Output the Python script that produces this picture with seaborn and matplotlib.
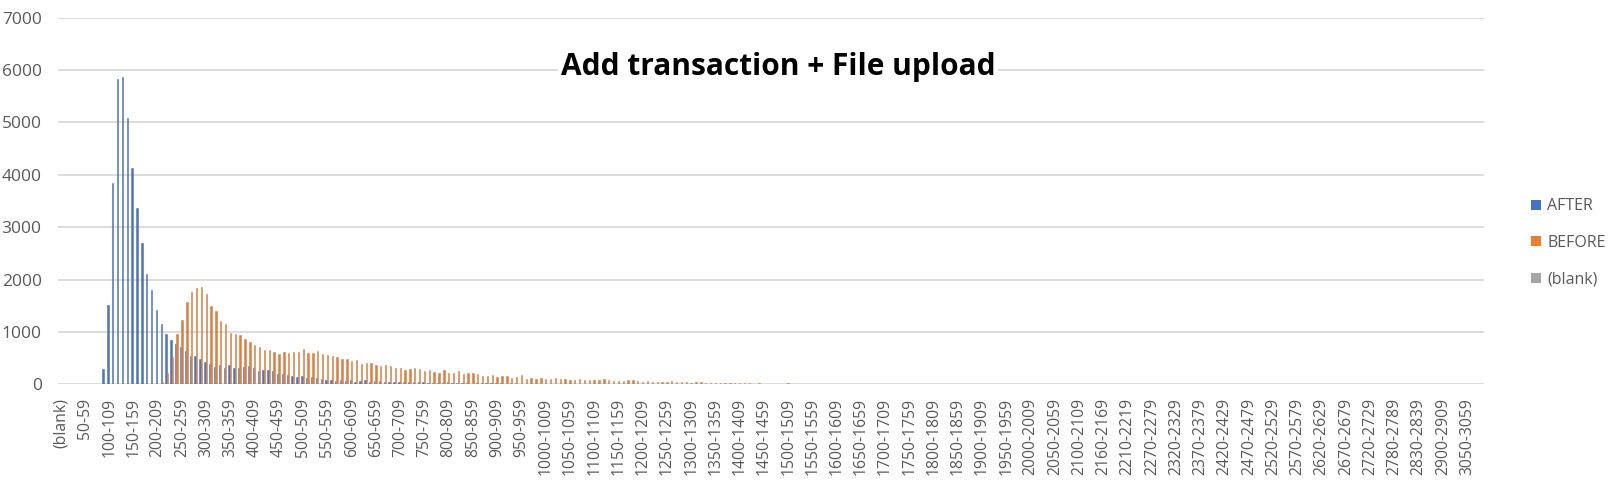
import pandas as pd
import matplotlib.pyplot as plt
import seaborn as sns
from matplotlib.patches import Patch

# category bins: (blank), then 10-wide bins up to 2100-2109, then the sparse tail
regular_starts = list(range(10, 2110, 10))
tail_starts = [2110, 2120, 2130, 2150, 2160, 2170, 2180, 2190, 2200, 2210,
               2220, 2230, 2240, 2260, 2270, 2280, 2290, 2300, 2310, 2320,
               2330, 2340, 2350, 2360, 2370, 2380, 2390, 2400, 2410, 2420,
               2430, 2440, 2450, 2460, 2470, 2480, 2490, 2500, 2510, 2520,
               2530, 2540, 2550, 2560, 2570, 2580, 2590, 2600, 2610, 2620,
               2630, 2640, 2650, 2660, 2670, 2680, 2690, 2700, 2710, 2720,
               2730, 2740, 2750, 2770, 2780, 2790, 2800, 2810, 2820, 2830,
               2840, 2850, 2870, 2890, 2900, 2920, 2940, 2970, 3010, 3050,
               3080, 3120, 3210]
bins = ['(blank)'] + [f'{s}-{s + 9}' for s in regular_starts + tail_starts]

# AFTER counts, first value is bin 90-99
after_first = '90-99'
after_counts = [292, 1513, 3840, 5823, 5861, 5079, 4126, 3363, 2696, 2104,
                1799, 1418, 1151, 957, 846, 766, 712, 636, 540, 540,
                483, 426, 388, 331, 369, 312, 369, 312, 312, 331,
                350, 312, 254, 273, 273, 254, 197, 197, 178, 159,
                140, 159, 121, 140, 121, 102, 83, 83, 64, 83,
                64, 83, 45, 64, 83, 45, 64, 64, 45, 45,
                45, 45, 45, 45, 45, 45, 45, 26, 26, 26,
                26, 45, 26, 26, 26, 26, 0, 26, 26, 26,
                26, 26, 26, 0, 19, 19]

# BEFORE counts, first value is bin 210-219
before_first = '210-219'
before_counts = [45, 220, 521, 957, 1227, 1570, 1761, 1837, 1856, 1723,
                 1494, 1399, 1208, 1151, 979, 960, 941, 865, 807, 750,
                 712, 655, 655, 617, 579, 617, 598, 617, 617, 674,
                 598, 598, 636, 579, 559, 540, 521, 483, 483, 445,
                 464, 388, 407, 407, 369, 350, 369, 350, 312, 318,
                 279, 299, 318, 299, 260, 279, 240, 221, 279, 221,
                 221, 260, 201, 221, 221, 201, 162, 162, 182, 143,
                 162, 162, 123, 143, 182, 104, 123, 104, 123, 104,
                 104, 123, 104, 104, 84, 84, 104, 84, 84, 84,
                 84, 104, 84, 65, 65, 65, 84, 84, 65, 45,
                 65, 45, 45, 45, 45, 65, 45, 45, 45, 26,
                 45, 45, 26, 19, 26, 26, 26, 26, 26, 26,
                 26, 26, 0, 26, 0, 0, 0, 0, 0, 20]

series_names = ['AFTER', 'BEFORE', '(blank)']
colors = ['#4472C4', '#ED7D31', '#A5A5A5']
y_ticks = [0, 1000, 2000, 3000, 4000, 5000, 6000, 7000]
title = 'Add transaction + File upload'


def full_series(first_bin, counts):
    """ spread a list of counts over all bins starting at first_bin """
    values = [0] * len(bins)
    start = bins.index(first_bin)
    for i, c in enumerate(counts):
        values[start + i] = c
    return values


df = pd.DataFrame({
    'bin': bins * 3,
    'series': [s for s in series_names for _ in bins],
    'count': full_series(after_first, after_counts)
    + full_series(before_first, before_counts)
    + [0] * len(bins),
})

sns.set_style('white')
plt.rcParams['font.family'] = ['Open Sans', 'DejaVu Sans']

fig = plt.figure(figsize=(16.16, 4.86), dpi=100)
ax = fig.add_axes([0.0361, 0.2093, 0.8822, 0.7543])

sns.barplot(data=df, x='bin', y='count', hue='series', order=bins,
            hue_order=series_names, palette=colors, width=0.85,
            linewidth=0, legend=False, ax=ax)

# the bars are only ~1.4 px wide; a matching edge keeps them solid
for bar in ax.patches:
    if bar.get_height() > 0:
        bar.set_edgecolor(bar.get_facecolor())
        bar.set_linewidth(0.4)

ax.set_ylim(0, 7000)
ax.set_xlim(-0.5, len(bins) - 0.5)
ax.set_yticks(y_ticks)
ax.yaxis.grid(True, color='#d9d9d9', linewidth=1.3)
ax.set_axisbelow(True)
ax.set_xticks(range(0, len(bins), 5))
ax.set_xticklabels(bins[::5], rotation=90, fontsize=11.3, color='#595959')
ax.tick_params(axis='y', labelsize=12.5, labelcolor='#595959', length=0, pad=12)
ax.tick_params(axis='x', length=0, pad=10)
ax.set_xlabel('')
ax.set_ylabel('')
sns.despine(ax=ax, left=True, bottom=True, top=True, right=True)

fig.text(778 / 1616, 1 - 67 / 486, title, ha='center', va='center',
         fontsize=21.5, fontweight='bold', color='black',
         bbox=dict(facecolor='white', edgecolor='none', pad=2))

handles = [Patch(facecolor=c, edgecolor='none', label=n)
           for c, n in zip(colors, series_names)]
fig.legend(handles=handles, loc='center left',
           bbox_to_anchor=(1517 / 1616, 1 - 243 / 486), frameon=False,
           fontsize=11.5, labelcolor='#595959', handlelength=0.6,
           handleheight=0.6, handletextpad=0.4, labelspacing=1.3)

plt.savefig('out.png', dpi=100)
